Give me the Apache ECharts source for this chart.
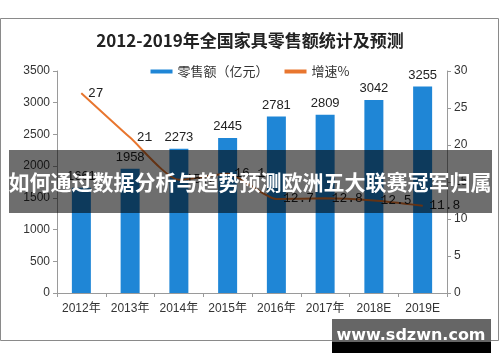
<!DOCTYPE html>
<html><head><meta charset="utf-8">
<script src="https://cdn.jsdelivr.net/npm/echarts@6/dist/echarts.min.js"></script>
<style>html,body{margin:0;padding:0;background:#fff}#c{width:500px;height:362px}</style>
</head><body><div id="c"></div>
<script>
var categories = ['2012年','2013年','2014年','2015年','2016年','2017年','2018E','2019E'];
var retailSales = [1661, 1958, 2273, 2445, 2781, 2809, 3042, 3255];
var growthRate = [27, 21, 15.3, 16.1, 12.7, 12.8, 12.5, 11.8];
var leftTicks = [0, 3500, 500];
var rightTicks = [0, 30, 5];
var titleText = '2012-2019年全国家具零售额统计及预测';
var bannerText = '如何通过数据分析与趋势预测欧洲五大联赛冠军归属';
var siteText = 'www.sdzwn.com';

var chart = echarts.init(document.getElementById('c'));
var axisLine = {show:true, lineStyle:{color:'#9a9a9a'}};
var lbl = {color:'#333', fontSize:12, fontFamily:'Liberation Sans, Noto Sans CJK SC'};
chart.setOption({
  animation:false,
  title:{text:titleText, left:'center', top:27, textStyle:{fontSize:17, fontWeight:'bold', color:'#222', fontFamily:'Noto Sans CJK SC'}},
  legend:{top:60, left:'center', itemWidth:22, itemHeight:4, itemGap:16,
    textStyle:{fontSize:13, color:'#333', fontFamily:'Noto Sans CJK SC'},
    data:[{name:'零售额（亿元）', icon:'rect'},{name:'增速%', icon:'rect', itemStyle:{color:'#e8762f'}}]},
  grid:{left:57, right:53, top:71, bottom:69},
  xAxis:{type:'category', data:categories, axisLine:axisLine,
    axisTick:{show:true, alignWithLabel:false, length:4, lineStyle:{color:'#9a9a9a'}},
    axisLabel:Object.assign({margin:10, interval:0}, lbl)},
  yAxis:[
    {type:'value', min:leftTicks[0], max:leftTicks[1], interval:leftTicks[2], splitLine:{show:false},
     axisLine:axisLine, axisTick:{show:true, length:4, lineStyle:{color:'#9a9a9a'}},
     axisLabel:Object.assign({margin:7, formatter:function(v){return String(v);}}, lbl)},
    {type:'value', min:rightTicks[0], max:rightTicks[1], interval:rightTicks[2], splitLine:{show:false},
     axisLine:axisLine, axisTick:{show:true, length:4, lineStyle:{color:'#9a9a9a'}},
     axisLabel:Object.assign({margin:7, formatter:function(v){return String(v);}}, lbl)}
  ],
  series:[
    {name:'零售额（亿元）', type:'bar', data:retailSales, barWidth:19, itemStyle:{color:'#1f86d6'},
     label:{show:true, position:'top', distance:5, color:'#222', fontSize:13, fontFamily:'Liberation Sans'}},
    {name:'增速%', type:'line', yAxisIndex:1, data:growthRate, symbol:'circle', symbolSize:1, showSymbol:true, smooth:0.2,
     lineStyle:{color:'#e8762f', width:2}, itemStyle:{color:'#e8762f'},
     labelLayout:{hideOverlap:false},
     label:{show:true, position:'right', distance:6, color:'#222', fontSize:13, fontFamily:'Liberation Mono'}}
  ],
  graphic:[
    {type:'rect', z:-1, shape:{x:0.5, y:18.5, width:498, height:322}, style:{fill:null, stroke:'#8a8a8a', lineWidth:1}},
    {type:'rect', z:100, shape:{x:9, y:150, width:483, height:63}, style:{fill:'rgba(0,0,0,0.57)'}},
    {type:'text', z:101, x:250, y:182, style:{text:bannerText, fill:'#fff', fontSize:21, fontWeight:'bold', fontFamily:'Noto Sans CJK SC', align:'center', verticalAlign:'middle'}},
    {type:'rect', z:100, shape:{x:332, y:319, width:159, height:23}, style:{fill:'#666'}},
    {type:'rect', z:100, shape:{x:332, y:342, width:159, height:11}, style:{fill:'#000'}},
    {type:'text', z:101, x:411, y:336, style:{text:siteText, fill:'#fff', fontSize:16, fontWeight:'bold', fontFamily:'DejaVu Sans', align:'center', verticalAlign:'middle'}}
  ]
});
</script></body></html>
